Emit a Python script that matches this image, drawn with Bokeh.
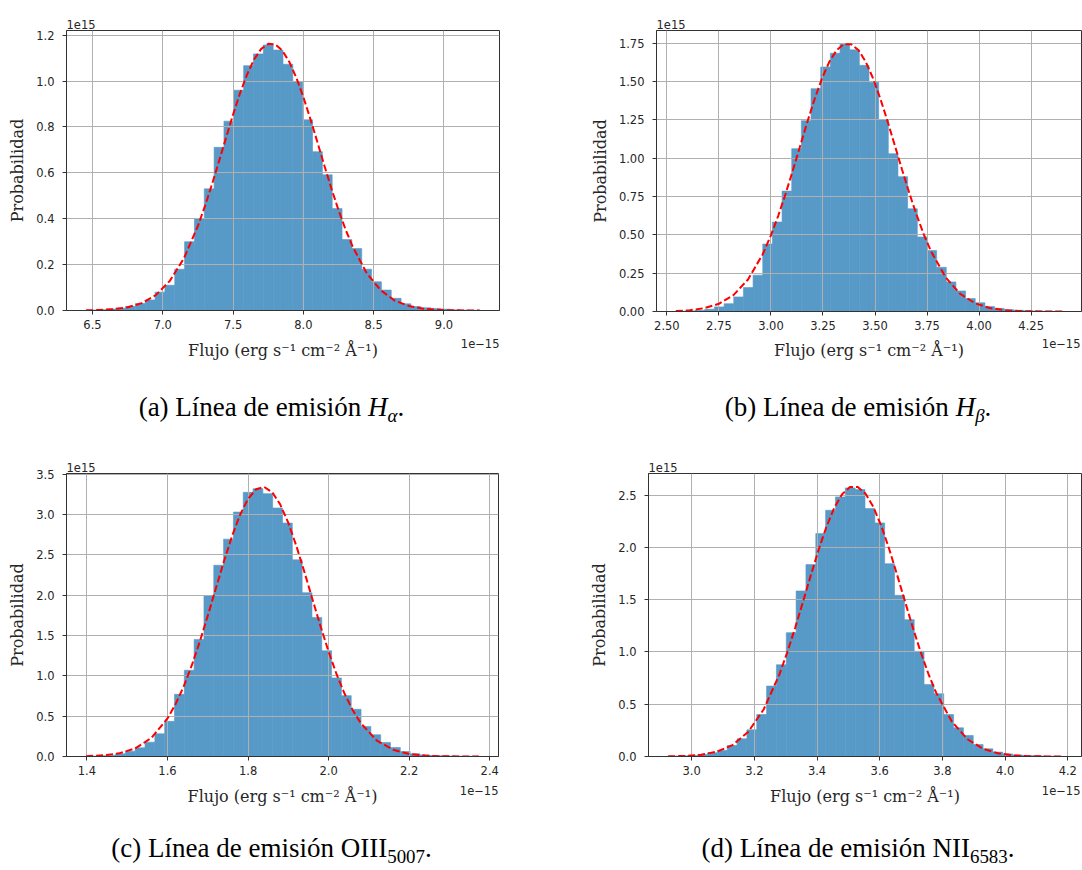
import numpy as np
from bokeh.plotting import figure
from bokeh.models import Range1d, FixedTicker
from bokeh.layouts import column, row
from bokeh.core.properties import value
from bokeh.embed import file_html
from bokeh.resources import INLINE

# ---------------- data (x in 1e-15, y in 1e15) ----------------
a_xmin, a_xmax = 6.455, 9.255
a_heights = [0.002, 0.003, 0.006, 0.010, 0.018, 0.030, 0.046, 0.080, 0.110, 0.180,
             0.300, 0.400, 0.530, 0.711, 0.825, 0.960, 1.067, 1.118, 1.157, 1.135,
             1.073, 0.998, 0.831, 0.692, 0.591, 0.444, 0.309, 0.270, 0.180, 0.125,
             0.089, 0.053, 0.029, 0.017, 0.012, 0.009, 0.006, 0.003, 0.002, 0.001]
a_curve_x = [6.455, 6.55, 6.65, 6.75, 6.85, 6.95, 7.05, 7.15, 7.25, 7.30, 7.35, 7.40, 7.45,
             7.50, 7.55, 7.60, 7.65, 7.70, 7.75, 7.80, 7.85, 7.90, 7.95, 8.00, 8.05, 8.10,
             8.15, 8.20, 8.25, 8.30, 8.35, 8.45, 8.55, 8.65, 8.75, 8.85, 8.95, 9.05, 9.15, 9.255]
a_curve_y = [0.001, 0.002, 0.006, 0.014, 0.032, 0.067, 0.129, 0.227, 0.369, 0.455, 0.550, 0.651, 0.753,
             0.854, 0.948, 1.029, 1.095, 1.140, 1.162, 1.160, 1.133, 1.083, 1.014, 0.930, 0.834, 0.733,
             0.630, 0.530, 0.437, 0.353, 0.279, 0.163, 0.088, 0.043, 0.020, 0.008, 0.003, 0.001, 0.0004, 0.0001]
a_xticks = [6.5, 7.0, 7.5, 8.0, 8.5, 9.0]
a_xlabels = ["6.5", "7.0", "7.5", "8.0", "8.5", "9.0"]
a_yticks = [0.0, 0.2, 0.4, 0.6, 0.8, 1.0, 1.2]
a_ylabels = ["0.0", "0.2", "0.4", "0.6", "0.8", "1.0", "1.2"]

b_xmin, b_xmax = 2.543, 4.399
b_heights = [0.002, 0.004, 0.008, 0.015, 0.030, 0.051, 0.095, 0.156, 0.237, 0.440,
             0.583, 0.785, 1.062, 1.244, 1.453, 1.594, 1.684, 1.745, 1.706, 1.605,
             1.495, 1.249, 1.029, 0.879, 0.670, 0.486, 0.398, 0.288, 0.193, 0.134,
             0.084, 0.057, 0.033, 0.020, 0.012, 0.008, 0.005, 0.003, 0.002, 0.001]
b_curve_x = [2.543, 2.61, 2.68, 2.75, 2.82, 2.89, 2.96, 3.00, 3.035, 3.07, 3.105, 3.14, 3.175,
             3.21, 3.245, 3.28, 3.315, 3.35, 3.385, 3.42, 3.455, 3.49, 3.525, 3.56, 3.595, 3.63,
             3.665, 3.70, 3.735, 3.77, 3.84, 3.91, 3.98, 4.05, 4.12, 4.19, 4.26, 4.33, 4.399]
b_curve_y = [0.003, 0.008, 0.022, 0.050, 0.107, 0.209, 0.372, 0.497, 0.624, 0.766, 0.919, 1.078, 1.237,
             1.386, 1.519, 1.627, 1.703, 1.743, 1.743, 1.705, 1.629, 1.522, 1.390, 1.241, 1.083, 0.924,
             0.770, 0.628, 0.500, 0.390, 0.221, 0.114, 0.054, 0.023, 0.009, 0.003, 0.001, 0.0003, 0.0001]
b_xticks = [2.5, 2.75, 3.0, 3.25, 3.5, 3.75, 4.0, 4.25]
b_xlabels = ["2.50", "2.75", "3.00", "3.25", "3.50", "3.75", "4.00", "4.25"]
b_yticks = [0.0, 0.25, 0.5, 0.75, 1.0, 1.25, 1.5, 1.75]
b_ylabels = ["0.00", "0.25", "0.50", "0.75", "1.00", "1.25", "1.50", "1.75"]

c_xmin, c_xmax = 1.398, 2.373
c_heights = [0.004, 0.008, 0.015, 0.033, 0.066, 0.108, 0.178, 0.282, 0.436, 0.771,
             1.070, 1.452, 1.995, 2.372, 2.696, 3.032, 3.277, 3.322, 3.260, 3.082,
             2.895, 2.439, 2.032, 1.725, 1.311, 0.975, 0.755, 0.585, 0.373, 0.270,
             0.174, 0.112, 0.062, 0.033, 0.020, 0.012, 0.008, 0.005, 0.003, 0.002]
c_curve_x = [1.398, 1.44, 1.48, 1.52, 1.56, 1.60, 1.62, 1.64, 1.66, 1.68, 1.70, 1.72, 1.74,
             1.76, 1.78, 1.80, 1.82, 1.84, 1.86, 1.88, 1.90, 1.92, 1.94, 1.96, 1.98, 2.00,
             2.02, 2.04, 2.06, 2.08, 2.12, 2.16, 2.20, 2.24, 2.28, 2.32, 2.373]
c_curve_y = [0.004, 0.014, 0.039, 0.100, 0.230, 0.472, 0.649, 0.867, 1.126, 1.422, 1.746, 2.084, 2.419,
             2.731, 2.996, 3.196, 3.315, 3.343, 3.278, 3.125, 2.897, 2.610, 2.287, 1.948, 1.614, 1.300,
             1.017, 0.775, 0.573, 0.413, 0.196, 0.084, 0.032, 0.011, 0.003, 0.001, 0.0002]
c_xticks = [1.4, 1.6, 1.8, 2.0, 2.2, 2.4]
c_xlabels = ["1.4", "1.6", "1.8", "2.0", "2.2", "2.4"]
c_yticks = [0.0, 0.5, 1.0, 1.5, 2.0, 2.5, 3.0, 3.5]
c_ylabels = ["0.0", "0.5", "1.0", "1.5", "2.0", "2.5", "3.0", "3.5"]

d_xmin, d_xmax = 2.925, 4.181
d_heights = [0.003, 0.006, 0.010, 0.020, 0.035, 0.057, 0.105, 0.169, 0.255, 0.402,
             0.674, 0.878, 1.185, 1.584, 1.836, 2.133, 2.356, 2.484, 2.570, 2.554,
             2.372, 2.235, 1.845, 1.542, 1.309, 1.006, 0.690, 0.600, 0.402, 0.275,
             0.201, 0.115, 0.073, 0.042, 0.025, 0.015, 0.010, 0.006, 0.003, 0.002]
d_curve_x = [2.925, 2.98, 3.03, 3.08, 3.13, 3.18, 3.23, 3.28, 3.305, 3.33, 3.355, 3.38, 3.405,
             3.43, 3.455, 3.48, 3.505, 3.53, 3.555, 3.58, 3.605, 3.63, 3.655, 3.68, 3.705, 3.73,
             3.755, 3.78, 3.83, 3.88, 3.93, 3.98, 4.03, 4.08, 4.13, 4.181]
d_curve_y = [0.0016, 0.006, 0.017, 0.046, 0.109, 0.234, 0.452, 0.786, 0.997, 1.230, 1.479, 1.733, 1.978,
             2.198, 2.380, 2.510, 2.578, 2.579, 2.514, 2.386, 2.206, 1.987, 1.743, 1.490, 1.240, 1.005,
             0.794, 0.611, 0.334, 0.165, 0.073, 0.029, 0.010, 0.003, 0.001, 0.0003]
d_xticks = [3.0, 3.2, 3.4, 3.6, 3.8, 4.0, 4.2]
d_xlabels = ["3.0", "3.2", "3.4", "3.6", "3.8", "4.0", "4.2"]
d_yticks = [0.0, 0.5, 1.0, 1.5, 2.0, 2.5]
d_ylabels = ["0.0", "0.5", "1.0", "1.5", "2.0", "2.5"]

y_label = "Probabilidad"
x_label = "Flujo (erg s\u207b\u00b9 cm\u207b\u00b2 \u00c5\u207b\u00b9)"
y_offset_text = "1e15"
x_offset_text = "1e\u221215"

# caption pieces: (text, italic, size scale, baseline shift px downward)
cap_a = [("(a) Línea de emisión ", False, 1.0, 0), ("H", True, 1.0, 0), ("α", True, 0.7, 5), (".", False, 1.0, 0)]
cap_b = [("(b) Línea de emisión ", False, 1.0, 0), ("H", True, 1.0, 0), ("β", True, 0.7, 5), (".", False, 1.0, 0)]
cap_c = [("(c) Línea de emisión OIII", False, 1.0, 0), ("5007", False, 0.7, 5), (".", False, 1.0, 0)]
cap_d = [("(d) Línea de emisión NII", False, 1.0, 0), ("6583", False, 0.7, 5), (".", False, 1.0, 0)]

# ---------------- helpers ----------------
TICK_COLOR = "#262626"
CAP_SIZE = 27
TW_REG = {' ': 250, '(': 333, ')': 333, '.': 250, 'a': 444, 'b': 500, 'c': 444, 'd': 500,
          'e': 444, 'i': 278, 'm': 778, 'n': 500, 's': 389, 'í': 278, 'ó': 500, 'L': 611,
          'O': 722, 'I': 333, 'N': 722}
TW_IT = {'H': 722, 'α': 530, 'β': 500}
# distance from baseline up to the middle of the text box, in em
MID_SERIF_LIB = 0.3375
MID_DEJAVU = 0.346


def piece_width(txt, italic, size):
    w = 0
    for ch in txt:
        if ch.isdigit():
            w += 500
        elif italic:
            w += TW_IT.get(ch, 500)
        else:
            w += TW_REG.get(ch, 500)
    return w * size / 1000.0


def put_text(f, x, baseline, txt, font, size, mid, align="left", style="normal", color=TICK_COLOR):
    f.text(x=[x], y=[baseline - mid * size], text=[txt], text_font=value(font),
           text_font_size=value(f"{size:.1f}px"),
           text_font_style=value(style), text_align=value(align),
           text_baseline=value("middle"), text_color=color)


def add_caption(f, pieces, center_x, base_y):
    widths = [piece_width(t, it, CAP_SIZE * s) for t, it, s, _ in pieces]
    x = center_x - sum(widths) / 2.0
    for (t, it, s, dy), w in zip(pieces, widths):
        put_text(f, x, base_y + dy, t, "Liberation Serif", CAP_SIZE * s, MID_SERIF_LIB,
                 style="italic" if it else "normal", color="black")
        x += w


def make_panel(xmin, xmax, heights, cx, cy, xticks, xlabels, yticks, ylabels,
               fl, ft, fw, fh, fig_w, fig_h):
    n = len(heights)
    edges = np.linspace(xmin, xmax, n + 1)
    pad = 0.05 * (xmax - xmin)
    ytop = 1.05 * max(max(heights), max(cy))
    p = figure(frame_width=fw, frame_height=fh,
               x_range=Range1d(xmin - pad, xmax + pad), y_range=Range1d(0, ytop),
               output_backend="svg", toolbar_location=None,
               min_border_left=fl, min_border_top=ft,
               min_border_right=fig_w - fl - fw, min_border_bottom=fig_h - ft - fh)
    p.background_fill_color = "white"
    p.border_fill_color = "white"
    p.outline_line_color = "#333333"
    p.outline_line_width = 1

    p.title.text = y_offset_text
    p.title.align = "left"
    p.title.text_font = "DejaVu Sans"
    p.title.text_font_size = "11.5px"
    p.title.text_font_style = "normal"
    p.title.text_color = TICK_COLOR
    p.title.standoff = 4
    p.title.offset = 0

    p.quad(left=edges[:-1], right=edges[1:], top=heights, bottom=0,
           fill_color="#5799c7", line_color="#5799c7", line_width=0.6, level="image")
    p.line(cx, cy, line_color="#ff0000", line_width=2, line_dash="7 3")

    p.xaxis.ticker = FixedTicker(ticks=xticks)
    p.yaxis.ticker = FixedTicker(ticks=yticks)
    p.xaxis.major_label_overrides = {t: l for t, l in zip(xticks, xlabels)}
    p.yaxis.major_label_overrides = {t: l for t, l in zip(yticks, ylabels)}
    p.xgrid.ticker = FixedTicker(ticks=xticks)
    p.ygrid.ticker = FixedTicker(ticks=yticks)
    for g in (p.xgrid, p.ygrid):
        g.grid_line_color = "#b0b0b0"
        g.grid_line_width = 1

    for ax in (p.xaxis, p.yaxis):
        ax.axis_line_color = "#333333"
        ax.major_tick_line_color = "#333333"
        ax.major_tick_in = 0
        ax.major_tick_out = 4
        ax.minor_tick_line_color = None
        ax.major_label_text_font = "DejaVu Sans"
        ax.major_label_text_font_size = "11.5px"
        ax.major_label_text_color = TICK_COLOR
        ax.axis_label_text_font = "DejaVu Serif"
        ax.axis_label_text_font_size = "16px"
        ax.axis_label_text_font_style = "normal"
        ax.axis_label_text_color = TICK_COLOR
    p.xaxis.major_label_standoff = 5
    p.yaxis.major_label_standoff = 8
    p.yaxis.axis_label = y_label
    p.yaxis.axis_label_standoff = 6
    return p


def make_caption_fig(top, bottom, items, captions):
    f = figure(width=1082, height=bottom - top, x_range=Range1d(0, 1082), y_range=Range1d(bottom, top),
               x_axis_type=None, y_axis_type=None, output_backend="svg", toolbar_location=None,
               min_border=0, min_border_left=0, min_border_right=0, min_border_top=0, min_border_bottom=0)
    f.outline_line_color = None
    f.background_fill_color = "white"
    f.border_fill_color = "white"
    for xl_x, xl_y, off_x, off_y in items:
        put_text(f, xl_x, xl_y, x_label, "DejaVu Serif", 16, MID_DEJAVU, align="center")
        put_text(f, off_x, off_y, x_offset_text, "DejaVu Sans", 11.5, MID_DEJAVU, align="right")
    for pieces, cx, by in captions:
        add_caption(f, pieces, cx, by)
    return f


# panel frames (page px): left border, top border, frame w, frame h, figure w, figure h
pa = make_panel(a_xmin, a_xmax, a_heights, a_curve_x, a_curve_y, a_xticks, a_xlabels, a_yticks, a_ylabels,
                66, 30, 433, 280, 560, 336)
pb = make_panel(b_xmin, b_xmax, b_heights, b_curve_x, b_curve_y, b_xticks, b_xlabels, b_yticks, b_ylabels,
                96, 30, 425, 281, 522, 336)
pc = make_panel(c_xmin, c_xmax, c_heights, c_curve_x, c_curve_y, c_xticks, c_xlabels, c_yticks, c_ylabels,
                66, 33, 432, 283, 560, 342)
pd = make_panel(d_xmin, d_xmax, d_heights, d_curve_x, d_curve_y, d_xticks, d_xlabels, d_yticks, d_ylabels,
                88, 33, 433, 283, 522, 342)

cap1 = make_caption_fig(336, 440,
                        [(282.5, 356, 499, 347), (868.5, 356, 1080, 347)],
                        [(cap_a, 271, 416), (cap_b, 857.5, 416)])
cap2 = make_caption_fig(782, 868,
                        [(282, 802, 498, 794), (864.5, 802, 1080, 794)],
                        [(cap_c, 271, 857), (cap_d, 857.5, 857)])

layout = column(row(pa, pb), cap1, row(pc, pd), cap2)
open("out.html", "w").write(file_html(layout, INLINE))
